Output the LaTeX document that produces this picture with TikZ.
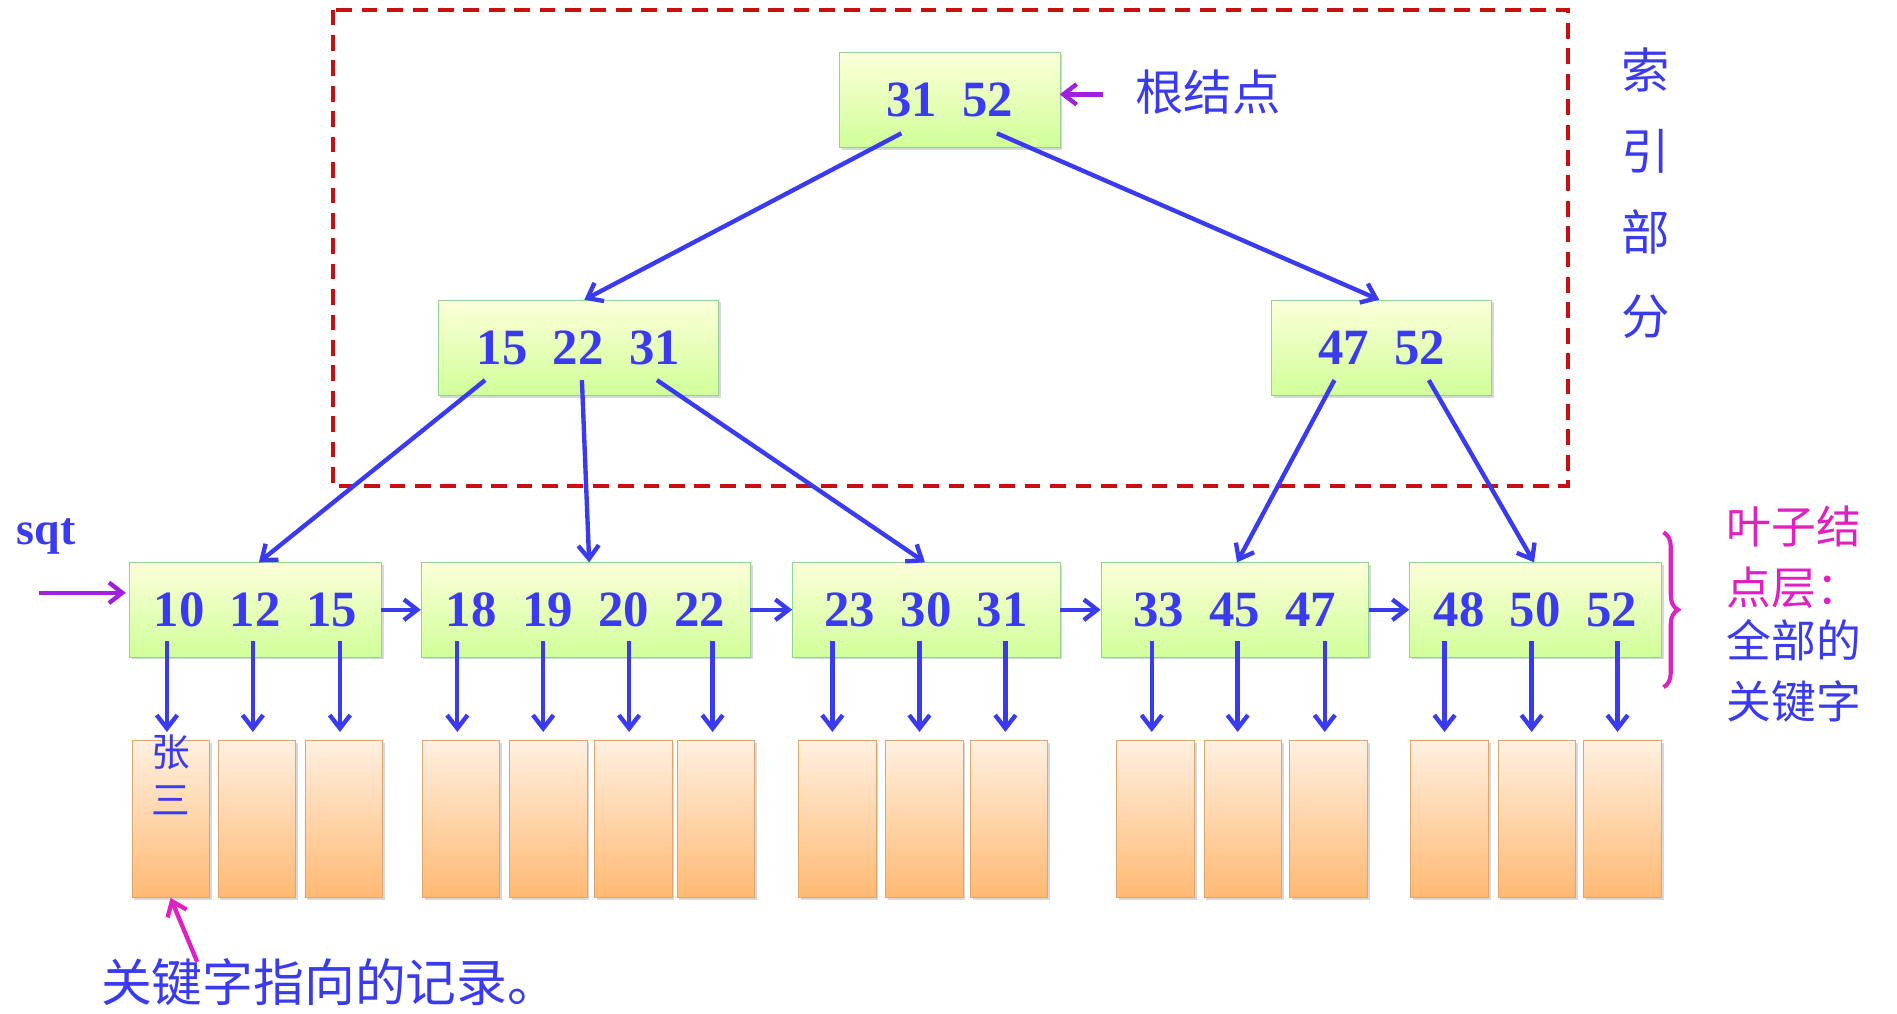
\documentclass[tikz,border=0pt]{standalone}
\usepackage{fontspec}
\setmainfont{Liberation Serif}
\newfontfamily\cjk{Noto Sans CJK SC}
\usetikzlibrary{arrows.meta,shadows,decorations.pathreplacing}
\definecolor{bl}{HTML}{3A3AF0}
\definecolor{mg}{HTML}{E020C0}
\definecolor{pu}{HTML}{A020E0}
\definecolor{dr}{HTML}{C81010}
\tikzset{
 gbox/.style={draw=green!40!gray!60, fill=green!20, top color=green!10!yellow!15, bottom color=green!45!yellow!40, text=bl, font=\bfseries\fontsize{42}{42}\selectfont, inner sep=0pt, drop shadow={shadow xshift=2pt,shadow yshift=-2pt,opacity=.3}},
 rec/.style={draw=orange!60!gray!70, top color=orange!12, bottom color=orange!55, minimum width=64pt, minimum height=130pt, inner sep=0pt, drop shadow={shadow xshift=2pt,shadow yshift=-2pt,opacity=.3}},
 arr/.style={-{Straight Barb[length=11pt,width=17pt]}, draw=bl, line width=3.6pt},
 parr/.style={-{Straight Barb[length=11pt,width=17pt]}, draw=pu, line width=3.6pt},
 ctext/.style={font=\cjk\fontsize{40}{40}\selectfont},
}
\begin{document}
\begin{tikzpicture}[x=1pt,y=-1pt]
\useasboundingbox[fill=white] (0,0) rectangle (1568,838);
\draw[dr, line width=3.2pt, dash pattern=on 13pt off 8pt] (275,8) rectangle (1296,402);
% boxes
\node[gbox, minimum width=182pt, minimum height=79pt] (root) at (785,82.5) {31\ \ 52};
\node[gbox, minimum width=232pt, minimum height=79pt] (a) at (478,287.5) {15\ \ 22\ \ 31};
\node[gbox, minimum width=182pt, minimum height=79pt] (b) at (1142,287.5) {47\ \ 52};
\node[gbox, minimum width=208pt, minimum height=78pt] (l1) at (211,504) {10\ \ 12\ \ 15};
\node[gbox, minimum width=272pt, minimum height=78pt] (l2) at (484,504) {18\ \ 19\ \ 20\ \ 22};
\node[gbox, minimum width=221pt, minimum height=78pt] (l3) at (765.5,504) {23\ \ 30\ \ 31};
\node[gbox, minimum width=221pt, minimum height=78pt] (l4) at (1020.5,504) {33\ \ 45\ \ 47};
\node[gbox, minimum width=208pt, minimum height=78pt] (l5) at (1269,504) {48\ \ 50\ \ 52};
% tree arrows
\draw[arr] ([xshift=-40pt,yshift=12pt]root.south) -- ([xshift=5pt]a.north);
\draw[arr] ([xshift=39pt,yshift=12pt]root.south) -- ([xshift=-2pt]b.north);
\draw[arr] ([xshift=-77pt,yshift=13pt]a.south) -- ([xshift=3pt]l1.north);
\draw[arr] ([xshift=3pt,yshift=13pt]a.south) -- ([xshift=3pt]l2.north);
\draw[arr] ([xshift=65pt,yshift=13pt]a.south) -- ([xshift=-1pt]l3.north);
\draw[arr] ([xshift=-39pt,yshift=13pt]b.south) -- ([xshift=2pt]l4.north);
\draw[arr] ([xshift=39pt,yshift=13pt]b.south) -- ([xshift=-1pt]l5.north);
% chain
\draw[arr] (l1.east) -- (l2.west);
\draw[arr] (l2.east) -- (l3.west);
\draw[arr] (l3.east) -- (l4.west);
\draw[arr] (l4.east) -- (l5.west);
% records
\foreach \i/\x in {1/141,2/212,3/284,4/381,5/453,6/523.5,7/591.5,8/692,9/764,10/834,11/955,12/1027,13/1098,14/1198,15/1270,16/1341}{
  \node[rec] (r\i) at (\x,677) {};
}
\node[text=bl, font=\cjk\fontsize{32}{40}\selectfont, align=center, inner sep=0pt, anchor=north] (zs) at ([yshift=5pt]r1.north) {张\\三};
\foreach \l/\i/\x in {l1/1/138,l1/2/209,l1/3/281,l2/4/378,l2/5/449,l2/6/520,l2/7/589,l3/8/688,l3/9/760,l3/10/831,l4/11/952,l4/12/1023,l4/13/1095,l5/14/1194,l5/15/1266,l5/16/1337}{
  \coordinate (t\i) at (\x,530);
  \coordinate (b\i) at (\x,605);
  \draw[arr] (t\i) -- (b\i);
}
% labels
\coordinate (rp) at (912,78);
\coordinate (rq) at (876,78);
\draw[parr] (rp) -- (rq);
\node[ctext, text=bl, anchor=west] (rlab) at (935,76) {根结点};
\node[font=\bfseries\fontsize{38}{38}\selectfont, text=bl] (sqt) at (38,443) {sqt};
\coordinate (sq) at (32,490);
\coordinate (sr) at (104,490);
\draw[parr] (sq) -- (sr);
\foreach \c/\y in {索/58,引/125,部/192,分/262}{\node[ctext,text=bl] at (1360,\y) {\c};}
\draw[mg, line width=3.4pt, decorate, decoration={brace, amplitude=12pt}] (1375,440) -- (1375,568);
\node[font=\cjk\fontsize{37}{50}\selectfont, text=mg, align=left, anchor=north west, inner sep=0pt] (lt) at (1427,418) {叶子结\\点层：};
\node[font=\cjk\fontsize{37}{50}\selectfont, text=bl, align=left, anchor=north west, inner sep=0pt] (lb) at (1427,512) {全部的\\关键字};
\node[font=\cjk\fontsize{42}{42}\selectfont, text=bl, anchor=west] (kw) at (80,812) {关键字指向的记录。};
\coordinate (kp) at (163,795);
\draw[-{Straight Barb[length=11pt,width=17pt]}, draw=mg, line width=3.6pt] (kp) -- (r1.south);
\end{tikzpicture}
\end{document}
